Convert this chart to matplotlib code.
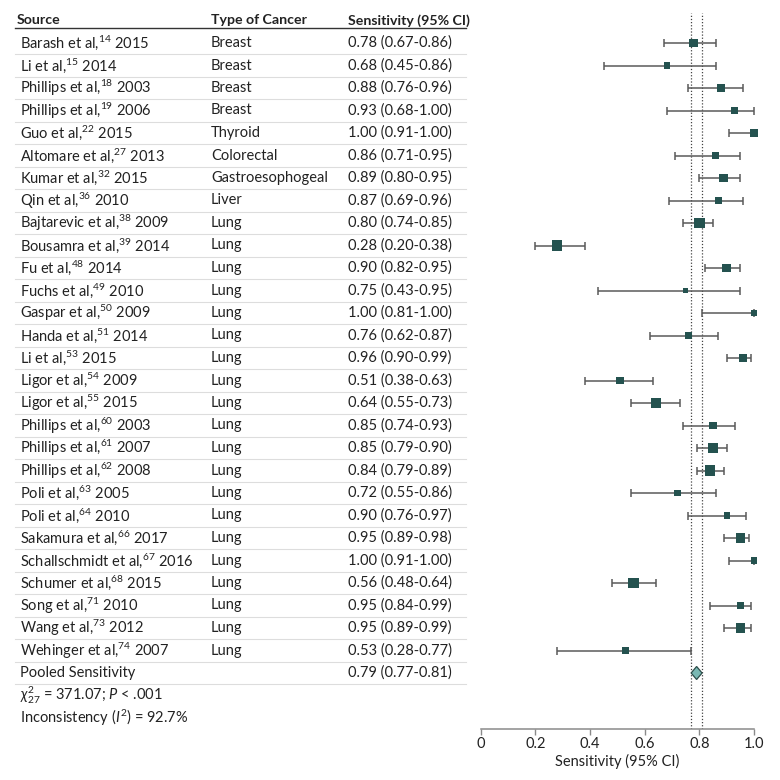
import matplotlib
matplotlib.use("Agg")
import matplotlib.pyplot as plt
import matplotlib.transforms as mtransforms
import numpy as np

plt.rcParams['font.family'] = ['Lato', 'DejaVu Sans']
plt.rcParams['mathtext.fontset'] = 'custom'
plt.rcParams['mathtext.rm'] = 'Lato'
plt.rcParams['mathtext.it'] = 'Lato:italic'
plt.rcParams['mathtext.bf'] = 'Lato:bold'

# studies
authors = ["Barash et al", "Li et al", "Phillips et al", "Phillips et al", "Guo et al",
           "Altomare et al", "Kumar et al", "Qin et al", "Bajtarevic et al", "Bousamra et al",
           "Fu et al", "Fuchs et al", "Gaspar et al", "Handa et al", "Li et al",
           "Ligor et al", "Ligor et al", "Phillips et al", "Phillips et al", "Phillips et al",
           "Poli et al", "Poli et al", "Sakamura et al", "Schallschmidt et al", "Schumer et al",
           "Song et al", "Wang et al", "Wehinger et al"]
refs = [14, 15, 18, 19, 22, 27, 32, 36, 38, 39, 48, 49, 50, 51, 53,
        54, 55, 60, 61, 62, 63, 64, 66, 67, 68, 71, 73, 74]
years = [2015, 2014, 2003, 2006, 2015, 2013, 2015, 2010, 2009, 2014, 2014, 2010, 2009, 2014, 2015,
         2009, 2015, 2003, 2007, 2008, 2005, 2010, 2017, 2016, 2015, 2010, 2012, 2007]
cancers = ["Breast", "Breast", "Breast", "Breast", "Thyroid", "Colorectal", "Gastroesophogeal",
           "Liver"] + ["Lung"] * 20
sens = np.array([0.78, 0.68, 0.88, 0.93, 1.00, 0.86, 0.89, 0.87, 0.80, 0.28,
                 0.90, 0.75, 1.00, 0.76, 0.96, 0.51, 0.64, 0.85, 0.85, 0.84,
                 0.72, 0.90, 0.95, 1.00, 0.56, 0.95, 0.95, 0.53])
lo = np.array([0.67, 0.45, 0.76, 0.68, 0.91, 0.71, 0.80, 0.69, 0.74, 0.20,
               0.82, 0.43, 0.81, 0.62, 0.90, 0.38, 0.55, 0.74, 0.79, 0.79,
               0.55, 0.76, 0.89, 0.91, 0.48, 0.84, 0.89, 0.28])
hi = np.array([0.86, 0.86, 0.96, 1.00, 1.00, 0.95, 0.95, 0.96, 0.85, 0.38,
               0.95, 0.95, 1.00, 0.87, 0.99, 0.63, 0.73, 0.93, 0.90, 0.89,
               0.86, 0.97, 0.98, 1.00, 0.64, 0.99, 0.99, 0.77])
# study weights (%)
weights = np.array([4.2, 1.9, 3.3, 2.5, 2.9, 2.9, 4.2, 2.5, 5.9, 5.2,
                    4.2, 1.3, 2.5, 2.9, 3.8, 3.3, 5.2, 3.3, 5.2, 5.2,
                    2.5, 1.9, 4.7, 2.5, 5.9, 2.9, 4.7, 2.2])

pooled, pooled_lo, pooled_hi = 0.79, 0.77, 0.81
chi2, df, i2 = 371.07, 27, 92.7

xticks = [0, 0.2, 0.4, 0.6, 0.8, 1.0]
xticklabels = ["0", "0.2", "0.4", "0.6", "0.8", "1.0"]

W = 780
fig = plt.figure(figsize=(7.8, 7.8), dpi=100)
ax = fig.add_axes([480.7 / W, 1 - 729 / W, 273.3 / W, 716 / W])

n = len(sens)
rows = np.arange(n)
row_h = 22.5
ax.set_ylim((729 - 43) / row_h, (13 - 43) / row_h)
ax.set_xlim(0, 1)

dark = "#24524f"
ax.errorbar(sens, rows, xerr=[sens - lo, hi - sens], fmt='none', ecolor='#5a5a5a',
            elinewidth=1.1, capsize=3, capthick=1.1, zorder=2, clip_on=False)
side_px = np.sqrt(weights * 19.26)
ax.scatter(sens, rows, marker='s', s=(side_px * 0.72) ** 2, color=dark, lw=0, zorder=3,
           clip_on=False)

# pooled diamond
py = n
dh = 0.29
ax.fill([pooled_lo, pooled, pooled_hi, pooled], [py, py - dh, py, py + dh],
        facecolor="#79b8b3", edgecolor="#2c4d4a", lw=0.9, zorder=4)
for v in (pooled_lo, pooled_hi):
    ax.axvline(v, color="#444444", ls=(0, (1, 1.5)), lw=0.9, zorder=1)

for s in ['top', 'right', 'left']:
    ax.spines[s].set_visible(False)
ax.spines['bottom'].set_color('#8a8a8a')
ax.spines['bottom'].set_linewidth(1.1)
ax.set_yticks([])
ax.set_xticks(xticks)
ax.set_xticklabels(xticklabels)
ax.tick_params(axis='x', direction='out', length=4, width=1, color='#8a8a8a',
               labelsize=10.5, labelcolor='#222222', pad=2)
ax.set_xlabel("Sensitivity (95% CI)", fontsize=10.5, color='#222222', labelpad=2)

# table on the left
tr = mtransforms.blended_transform_factory(fig.transFigure, ax.transData)
fs = 10.5
hfs = 10.2
tc = '#222222'
xs, xc, xv = 20 / W, 211 / W, 348 / W
hy = -1
ax.text(17 / W, hy, "Source", transform=tr, fontsize=hfs, fontweight='bold', color=tc, va='center')
ax.text(xc, hy, "Type of Cancer", transform=tr, fontsize=hfs, fontweight='bold', color=tc, va='center')
ax.text(xv, hy, "Sensitivity (95% CI)", transform=tr, fontsize=hfs, fontweight='bold', color=tc, va='center')
ax.plot([15 / W, 466 / W], [-0.67, -0.67], transform=tr, color='#333333', lw=1.0, clip_on=False)

for i in range(n):
    ax.text(xs, i, f"{authors[i]},$^{{{refs[i]}}}$ {years[i]}", transform=tr, fontsize=fs,
            color=tc, va='center')
    ax.text(xc, i, cancers[i], transform=tr, fontsize=fs, color=tc, va='center')
    ax.text(xv, i, f"{sens[i]:.2f} ({lo[i]:.2f}-{hi[i]:.2f})", transform=tr, fontsize=fs,
            color=tc, va='center')

ax.text(xs, n, "Pooled Sensitivity", transform=tr, fontsize=fs, color=tc, va='center')
ax.text(xv, n, f"{pooled:.2f} ({pooled_lo:.2f}-{pooled_hi:.2f})", transform=tr, fontsize=fs,
        color=tc, va='center')
for i in range(n + 1):
    ax.plot([15 / W, 466 / W], [i + 0.5, i + 0.5], transform=tr, color='#dddddd', lw=0.8,
            clip_on=False)

ax.text(xs, n + 1, rf"$\chi^2_{{{df}}}$ = {chi2:.2f}; $P$ < .001", transform=tr, fontsize=fs,
        color=tc, va='center')
ax.text(xs, n + 2, rf"Inconsistency ($I^2$) = {i2}%", transform=tr, fontsize=fs,
        color=tc, va='center')

fig.savefig("out.png", dpi=100, facecolor='white')
